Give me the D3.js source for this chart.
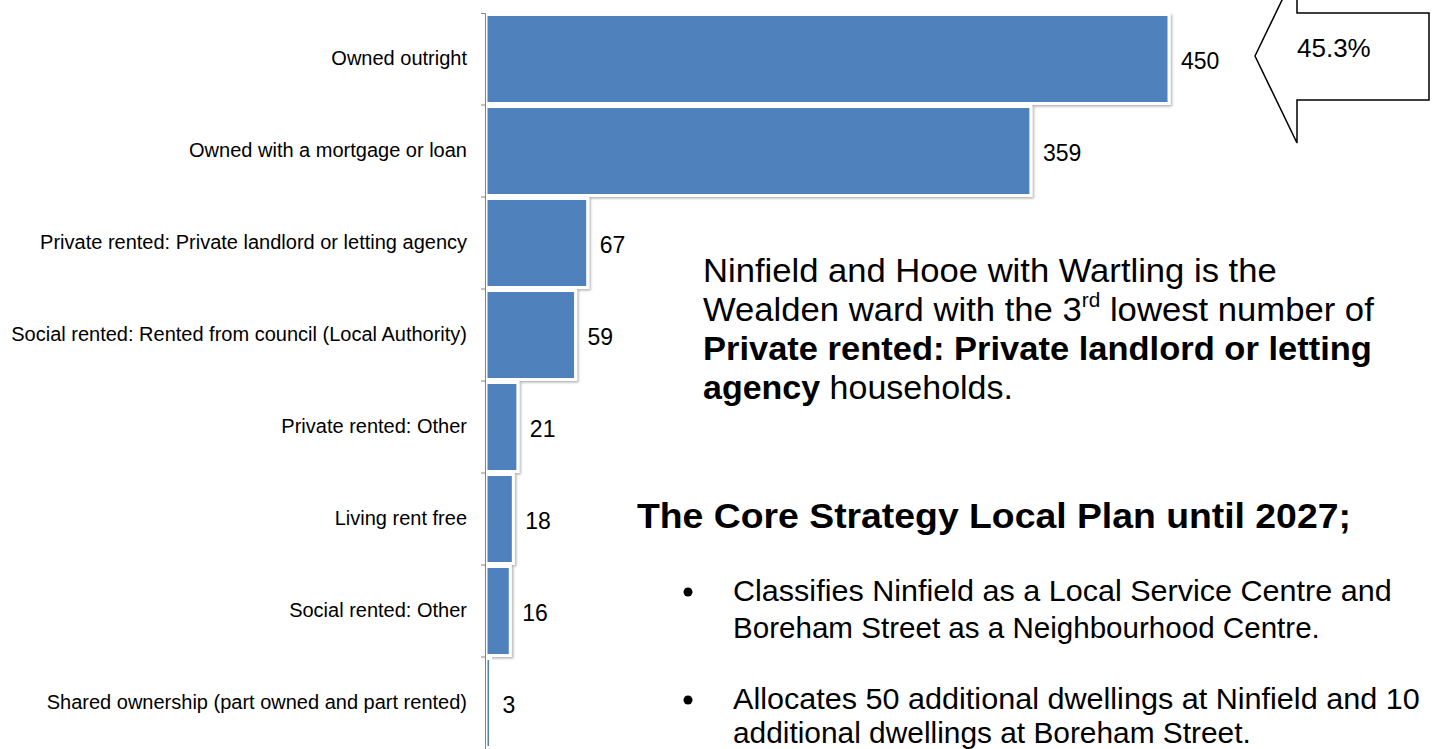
<!DOCTYPE html>
<html>
<head>
<meta charset="utf-8">
<script src="https://cdn.jsdelivr.net/npm/d3@7"></script>
<style>
  body { margin: 0; background: #fff; }
  svg { display: block; font-family: "Liberation Sans", Arial, sans-serif; }
</style>
</head>
<body>
<svg id="chart" width="1437" height="749"></svg>
<script>
// tenure categories, top to bottom
const categories = [
    "Owned outright",
    "Owned with a mortgage or loan",
    "Private rented: Private landlord or letting agency",
    "Social rented: Rented from council (Local Authority)",
    "Private rented: Other",
    "Living rent free",
    "Social rented: Other",
    "Shared ownership (part owned and part rented)"
];
// households
const values = [450, 359, 67, 59, 21, 18, 16, 3];
const calloutText = "45.3%";

// text block on the right: each line is a list of [text, style] runs
const noteLines = [
    [["Ninfield and Hooe with Wartling is the", "n"]],
    [["Wealden ward with the 3", "n"], ["rd", "sup"], [" lowest number of", "back"]],
    [["Private rented: Private landlord or letting", "b"]],
    [["agency", "b"], [" households.", "n"]]
];
const heading = "The Core Strategy Local Plan until 2027;";
const bullets = [
    ["Classifies Ninfield as a Local Service Centre and", "Boreham Street as a Neighbourhood Centre."],
    ["Allocates 50 additional dwellings at Ninfield and 10", "additional dwellings at Boreham Street."]
];

let svg = d3.select("#chart");

let defs = svg.append("defs");
defs.append("filter")
    .attr("id", "shadow")
    .attr("x", "-20%").attr("y", "-20%")
    .attr("width", "140%").attr("height", "140%")
    .append("feDropShadow")
    .attr("dx", 1.5).attr("dy", 1.5)
    .attr("stdDeviation", 1.2)
    .attr("flood-color", "#000")
    .attr("flood-opacity", 0.3);

let x = d3.scaleLinear().domain([0, 450]).range([486, 1169]);
let y = d3.scaleBand().domain(categories).range([13, 749]).padding(0);
let bw = y.bandwidth();

// bars
svg.append("g")
    .selectAll("rect")
    .data(values)
    .enter().append("rect")
    .attr("x", x(0))
    .attr("y", (d, i) => y(categories[i]) + 1.5)
    .attr("width", d => x(d) - x(0))
    .attr("height", bw - 3)
    .attr("fill", "#4F81BD")
    .attr("stroke", "#fff")
    .attr("stroke-width", 3)
    .attr("filter", "url(#shadow)");

// value labels
svg.append("g")
    .selectAll("text")
    .data(values)
    .enter().append("text")
    .attr("x", d => x(d) + 12)
    .attr("y", (d, i) => y(categories[i]) + bw / 2)
    .attr("dy", "0.45em")
    .attr("font-size", 23)
    .attr("fill", "#000")
    .text(d => d);

// category axis
let axis = svg.append("g")
    .attr("transform", `translate(${x(0) - 1},0)`)
    .call(d3.axisLeft(y).tickSize(0).tickSizeOuter(4).tickPadding(18));
axis.select(".domain").attr("stroke", "#868686");
axis.selectAll("text")
    .attr("font-size", 20)
    .attr("font-family", "'Liberation Sans', Arial, sans-serif")
    .attr("fill", "#000");
axis.selectAll(".band-tick")
    .data(categories.slice(1))
    .enter().append("line")
    .attr("class", "band-tick")
    .attr("x1", -4).attr("x2", 0)
    .attr("y1", d => y(d)).attr("y2", d => y(d))
    .attr("stroke", "#868686");

// callout arrow pointing at the top bar
let arrowPts = [[1255, 56], [1297, -31], [1297, 13], [1429, 13], [1429, 100], [1297, 100], [1297, 143]];
svg.append("polygon")
    .attr("points", arrowPts.map(p => p.join(",")).join(" "))
    .attr("fill", "#fff")
    .attr("stroke", "#000")
    .attr("stroke-width", 1.5);
svg.append("text")
    .attr("x", 1297).attr("y", 57)
    .attr("font-size", 26)
    .text(calloutText);

// helper: write a line of runs, then squeeze it to the width seen in the picture
function writeLine(runs, left, baseline, size, width) {
    let g = svg.append("g");
    let t = g.append("text").attr("font-size", size);
    runs.forEach(r => {
        let s = t.append("tspan").text(r[0]);
        if (r[1] === "b") s.attr("font-weight", "bold");
        if (r[1] === "sup") s.attr("font-size", size * 0.6).attr("dy", -size * 0.42);
        if (r[1] === "back") s.attr("dy", size * 0.42);
    });
    let w = t.node().getComputedTextLength();
    g.attr("transform", `translate(${left},${baseline}) scale(${width / w},1)`);
}

let noteBase = [282, 321, 360, 399];
let noteWidth = [574, 671, 669, 310];
noteLines.forEach((l, i) => writeLine(l, 703, noteBase[i], 33, noteWidth[i]));

writeLine([[heading, "b"]], 637, 528, 35, 714);

let bulletBase = [[601, 638], [709, 743]];
let bulletWidth = [[659, 587], [687, 518]];
bullets.forEach((b, i) => {
    svg.append("circle")
        .attr("cx", 688).attr("cy", bulletBase[i][0] - 9)
        .attr("r", 4.5).attr("fill", "#000");
    b.forEach((line, j) => writeLine([[line, "n"]], 733, bulletBase[i][j], 30, bulletWidth[i][j]));
});
</script>
</body>
</html>
